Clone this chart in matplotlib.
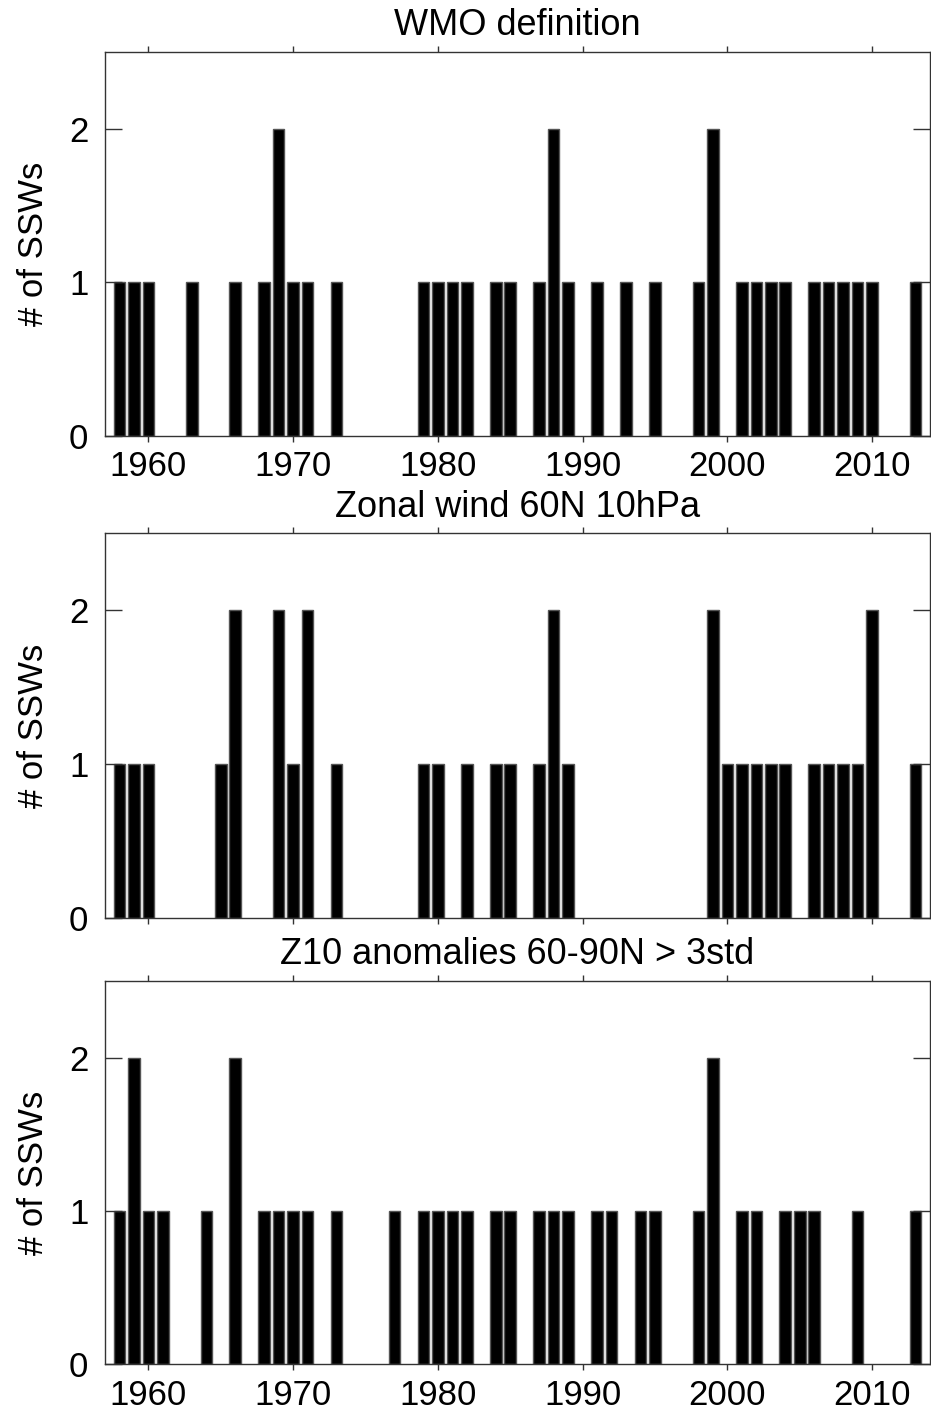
import matplotlib
matplotlib.use("Agg")
import matplotlib.pyplot as plt
import numpy as np

plt.rcParams['font.family'] = ['Liberation Sans', 'DejaVu Sans']

# Panel 1: WMO definition
wmo_years = [1958, 1959, 1960, 1963, 1966, 1968, 1969, 1970, 1971, 1973,
             1979, 1980, 1981, 1982, 1984, 1985, 1987, 1988, 1989, 1991,
             1993, 1995, 1998, 1999, 2001, 2002, 2003, 2004, 2006, 2007,
             2008, 2009, 2010, 2013]
wmo_counts = [1, 1, 1, 1, 1, 1, 2, 1, 1, 1,
              1, 1, 1, 1, 1, 1, 1, 2, 1, 1,
              1, 1, 1, 2, 1, 1, 1, 1, 1, 1,
              1, 1, 1, 1]

# Panel 2: Zonal wind 60N 10hPa
zw_years = [1958, 1959, 1960, 1965, 1966, 1969, 1970, 1971, 1973, 1979,
            1980, 1982, 1984, 1985, 1987, 1988, 1989, 1999, 2000, 2001,
            2002, 2003, 2004, 2006, 2007, 2008, 2009, 2010, 2013]
zw_counts = [1, 1, 1, 1, 2, 2, 1, 2, 1, 1,
             1, 1, 1, 1, 1, 2, 1, 2, 1, 1,
             1, 1, 1, 1, 1, 1, 1, 2, 1]

# Panel 3: Z10 anomalies 60-90N > 3std
z10_years = [1958, 1959, 1960, 1961, 1964, 1966, 1968, 1969, 1970, 1971,
             1973, 1977, 1979, 1980, 1981, 1982, 1984, 1985, 1987, 1988,
             1989, 1991, 1992, 1994, 1995, 1998, 1999, 2001, 2002, 2004,
             2005, 2006, 2009, 2013]
z10_counts = [1, 2, 1, 1, 1, 2, 1, 1, 1, 1,
              1, 1, 1, 1, 1, 1, 1, 1, 1, 1,
              1, 1, 1, 1, 1, 1, 2, 1, 1, 1,
              1, 1, 1, 1]

titles = ["WMO definition", "Zonal wind 60N 10hPa", "Z10 anomalies 60-90N > 3std"]
xticks = [1960, 1970, 1980, 1990, 2000, 2010]
yticks = [0, 1, 2]

fig = plt.figure(figsize=(9.31, 14.16), dpi=100)
left = 105 / 931
width = 825 / 931
panels = [
    (1 - 435.7 / 1416, 384 / 1416),
    (1 - 918.3 / 1416, 385 / 1416),
    (1 - 1364.3 / 1416, 383.3 / 1416),
]
data = [(wmo_years, wmo_counts), (zw_years, zw_counts), (z10_years, z10_counts)]
show_xlabels = [True, False, True]

spine_color = '#333333'
fs = 25
fs_title = 26

for i, ((yrs, cnts), (b, h)) in enumerate(zip(data, panels)):
    ax = fig.add_axes([left, b, width, h])
    ax.bar(yrs, cnts, width=0.8, color='black', edgecolor='#555555', linewidth=1.0)
    ax.set_xlim(1957, 2014)
    ax.set_ylim(0, 2.5)
    ax.set_xticks(xticks)
    ax.set_yticks(yticks)
    if show_xlabels[i]:
        ax.set_xticklabels([str(t) for t in xticks], fontsize=fs)
    else:
        ax.set_xticklabels([])
    ax.set_yticklabels([str(t) for t in yticks], fontsize=fs)
    ax.tick_params(axis='x', direction='out', length=4.5, width=1, color=spine_color,
                   top=True, bottom=True, pad=6)
    ax.tick_params(axis='y', direction='in', length=12, width=1, color=spine_color,
                   left=True, right=True, pad=12)
    for s in ax.spines.values():
        s.set_color(spine_color)
        s.set_linewidth(1.0)
    ax.set_title(titles[i], fontsize=fs_title, pad=12)
    ax.set_ylabel('# of SSWs', fontsize=fs, labelpad=14)

fig.savefig('out.png', dpi=100)
